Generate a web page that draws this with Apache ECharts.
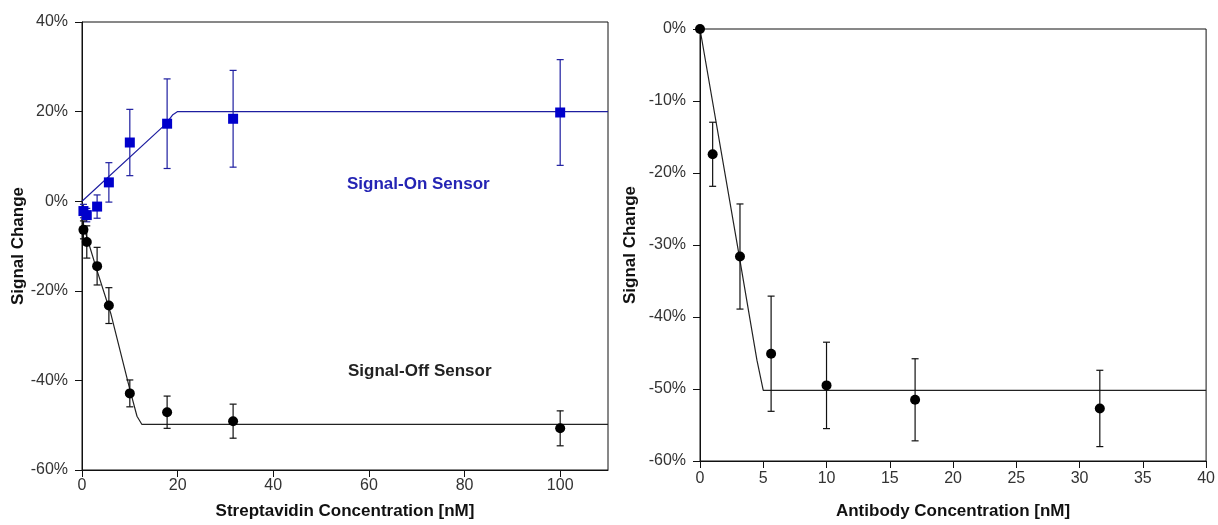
<!DOCTYPE html>
<html>
<head>
<meta charset="utf-8">
<script src="https://cdn.jsdelivr.net/npm/echarts@6/dist/echarts.min.js"></script>
<style>
  html, body { margin: 0; padding: 0; background: #fff; }
  #chart { width: 1218px; height: 525px; }
</style>
</head>
<body>
<div id="chart"></div>
<script>
// left panel: streptavidin, values in %
const strepOnX = [0.3, 1, 3.16, 5.62, 10, 17.8, 31.6, 100]
const strepOnY = [-2.2, -3.1, -1.2, 4.2, 13.1, 17.3, 18.4, 19.8]
const strepOnErr = [1.5, 1.5, 2.6, 4.4, 7.4, 10, 10.8, 11.8]
const strepOffX = [0.3, 1, 3.16, 5.62, 10, 17.8, 31.6, 100]
const strepOffY = [-6.4, -9.1, -14.5, -23.3, -42.9, -47.1, -49.1, -50.7]
const strepOffErr = [2, 3.6, 4.2, 4, 3, 3.6, 3.8, 3.9]
// fitted curves
const fitOnX = [0, 17.5, 19, 20, 110]
const fitOnY = [0, 17.2, 19.3, 20, 20]
const fitOffX = [0, 1, 3, 6, 10, 11.5, 12.5, 110]
const fitOffY = [-4, -8, -15, -25, -42, -48, -49.8, -49.8]

// right panel: antibody
const abX = [0, 1, 3.16, 5.62, 10, 17, 31.6]
const abY = [0, -17.4, -31.6, -45.1, -49.5, -51.5, -52.7]
const abErr = [0, 4.45, 7.3, 8, 6, 5.7, 5.3]
const fitAbX = [0, 3, 4.5, 5, 40]
const fitAbY = [0, -30.5, -46, -50.2, -50.2]

const strepTicks = [0, 20, 40, 60, 80, 100]

const zip = (xs, ys) => xs.map((x, i) => [x, ys[i]])
const errData = (xs, ys, es) => xs.map((x, i) => [x, ys[i] - es[i], ys[i] + es[i]])

function errorBar(color, capW) {
  return function(params, api) {
    const lo = api.coord([api.value(0), api.value(1)])
    const hi = api.coord([api.value(0), api.value(2)])
    const s = { stroke: color, lineWidth: 1.2 }
    return {
      type: 'group',
      children: [
        { type: 'line', shape: { x1: lo[0], y1: lo[1], x2: hi[0], y2: hi[1] }, style: s },
        { type: 'line', shape: { x1: lo[0] - capW, y1: lo[1], x2: lo[0] + capW, y2: lo[1] }, style: s },
        { type: 'line', shape: { x1: hi[0] - capW, y1: hi[1], x2: hi[0] + capW, y2: hi[1] }, style: s }
      ]
    }
  }
}

const font = 'Liberation Sans, Arial, sans-serif'
const axisCommon = {
  axisLine: { show: true, onZero: false, lineStyle: { color: '#111', width: 1 } },
  axisTick: { show: true, length: 7, lineStyle: { color: '#111' } },
  splitLine: { show: false },
  nameTextStyle: { fontFamily: font, fontWeight: 'bold', fontSize: 17, color: '#111' }
}
const labelCommon = { fontFamily: font, fontSize: 16, color: '#333' }

const chart = echarts.init(document.getElementById('chart'))
chart.setOption({
  animation: false,
  grid: [
    { left: 82, right: 610, top: 22, bottom: 53, show: true, borderColor: '#111', borderWidth: 1 },
    { left: 700, right: 11, top: 29, bottom: 61, show: true, borderColor: '#111', borderWidth: 1 }
  ],
  xAxis: [
    Object.assign({}, axisCommon, {
      type: 'value', gridIndex: 0, min: 0, max: 110, interval: 20,
      name: 'Streptavidin Concentration [nM]', nameLocation: 'middle', nameGap: 33,
      axisTick: Object.assign({}, axisCommon.axisTick, { customValues: strepTicks }),
      axisLabel: Object.assign({}, labelCommon, { margin: 8, customValues: strepTicks })
    }),
    Object.assign({}, axisCommon, {
      type: 'value', gridIndex: 1, min: 0, max: 40, interval: 5,
      name: 'Antibody Concentration [nM]', nameLocation: 'middle', nameGap: 42,
      axisLabel: Object.assign({}, labelCommon, { margin: 10 })
    })
  ],
  yAxis: [
    Object.assign({}, axisCommon, {
      type: 'value', gridIndex: 0, min: -60, max: 40, interval: 20,
      name: 'Signal Change', nameLocation: 'middle', nameGap: 52,
      axisLabel: Object.assign({}, labelCommon, { margin: 14, formatter: v => v + '%' })
    }),
    Object.assign({}, axisCommon, {
      type: 'value', gridIndex: 1, min: -60, max: 0, interval: 10,
      name: 'Signal Change', nameLocation: 'middle', nameGap: 61,
      axisLabel: Object.assign({}, labelCommon, { margin: 14, formatter: v => v + '%' })
    })
  ],
  graphic: [
    { type: 'text', left: 347, top: 176, style: { text: 'Signal-On Sensor', fill: '#2424b4', font: 'bold 17px ' + font } },
    { type: 'text', left: 348, top: 363, style: { text: 'Signal-Off Sensor', fill: '#222', font: 'bold 17px ' + font } }
  ],
  series: [
    {
      type: 'line', xAxisIndex: 0, yAxisIndex: 0, data: zip(fitOnX, fitOnY),
      showSymbol: false, lineStyle: { color: '#1e1ea0', width: 1.2 }, z: 2
    },
    {
      type: 'line', xAxisIndex: 0, yAxisIndex: 0, data: zip(fitOffX, fitOffY),
      showSymbol: false, lineStyle: { color: '#222', width: 1.2 }, z: 2
    },
    {
      type: 'custom', xAxisIndex: 0, yAxisIndex: 0, data: errData(strepOnX, strepOnY, strepOnErr),
      renderItem: errorBar('#1e1ea0', 3.5), z: 3
    },
    {
      type: 'custom', xAxisIndex: 0, yAxisIndex: 0, data: errData(strepOffX, strepOffY, strepOffErr),
      renderItem: errorBar('#111', 3.5), z: 3
    },
    {
      type: 'scatter', xAxisIndex: 0, yAxisIndex: 0, data: zip(strepOffX, strepOffY),
      symbol: 'circle', symbolSize: 10, itemStyle: { color: '#000', opacity: 1 }, z: 4
    },
    {
      type: 'scatter', xAxisIndex: 0, yAxisIndex: 0, data: zip(strepOnX, strepOnY),
      symbol: 'rect', symbolSize: 10, itemStyle: { color: '#0000cc', opacity: 1 }, z: 5
    },
    {
      type: 'line', xAxisIndex: 1, yAxisIndex: 1, data: zip(fitAbX, fitAbY),
      showSymbol: false, lineStyle: { color: '#222', width: 1.2 }, z: 2
    },
    {
      type: 'custom', xAxisIndex: 1, yAxisIndex: 1, data: errData(abX.slice(1), abY.slice(1), abErr.slice(1)),
      renderItem: errorBar('#111', 3.5), z: 3
    },
    {
      type: 'scatter', xAxisIndex: 1, yAxisIndex: 1, data: zip(abX, abY),
      symbol: 'circle', symbolSize: 10, itemStyle: { color: '#000', opacity: 1 }, z: 4
    }
  ]
})
</script>
</body>
</html>
